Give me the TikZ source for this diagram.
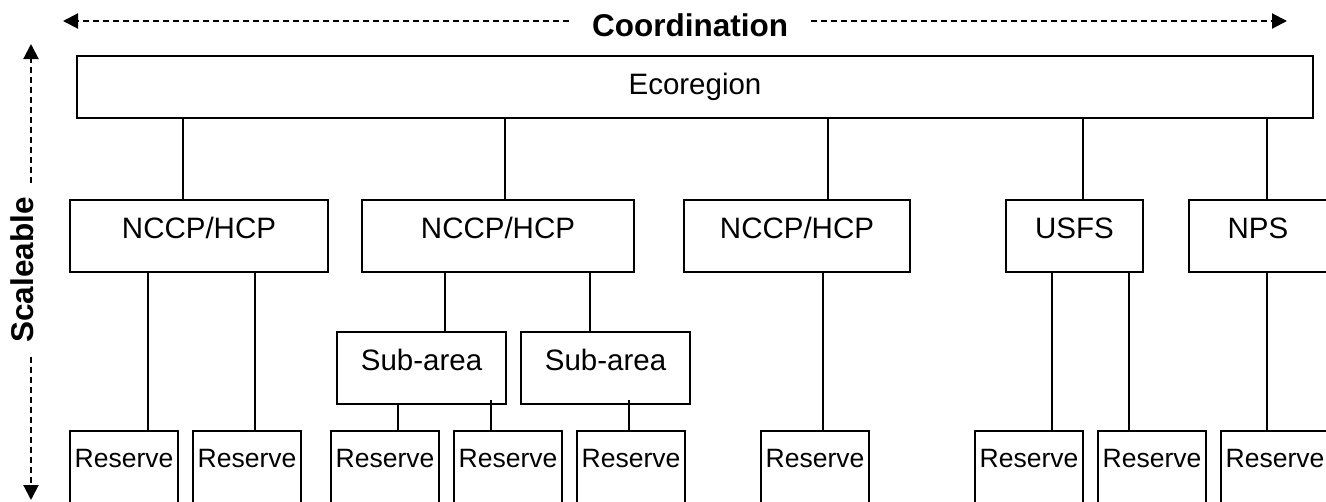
\documentclass[tikz,border=0pt]{standalone}
\usepackage{fontspec}
\setmainfont{Liberation Sans}
\usetikzlibrary{arrows.meta}
\begin{document}
\begin{tikzpicture}[x=1pt,y=-1pt,
  box/.style={draw, line width=2pt, inner sep=0pt, outer sep=0pt, anchor=north, font=\fontsize{29.5}{32}\selectfont},
  lvl/.style={box, text height=38pt, text depth=34pt},
  res/.style={box, text height=36pt, text depth=60pt, minimum width=108pt, font=\fontsize{26.5}{30}\selectfont},
  conn/.style={line width=2pt},
  dasharrow/.style={line width=2.1pt, dash pattern=on 6pt off 4pt, -{Triangle[length=15pt,width=15pt]}},
  axislabel/.style={font=\bfseries\fontsize{31.5}{34}\selectfont, inner ysep=0pt}]
\useasboundingbox (0,0) rectangle (1326,501);
\clip (0,0) rectangle (1326,501);
% top node
\node[box, minimum width=1236pt, text height=38pt, text depth=24pt] (eco) at (695,56) {Ecoregion};
% level 2
\node[lvl, minimum width=258pt] (n1) at (199,200) {NCCP/HCP};
\node[lvl, minimum width=272pt] (n2) at (498,200) {NCCP/HCP};
\node[lvl, minimum width=226pt] (n3) at (797,200) {NCCP/HCP};
\node[lvl, minimum width=137pt] (usfs) at (1074.5,200) {USFS};
\node[lvl, minimum width=138pt] (nps) at (1258,200) {NPS};
% sub-areas
\node[lvl, minimum width=169pt] (s1) at (421.5,332) {Sub-area};
\node[lvl, minimum width=169pt] (s2) at (605.5,332) {Sub-area};
% reserves
\node[res] (r1) at (124,431) {Reserve};
\node[res] (r2) at (247,431) {Reserve};
\node[res] (r3) at (385,431) {Reserve};
\node[res] (r4) at (508,431) {Reserve};
\node[res] (r5) at (631,431) {Reserve};
\node[res] (r6) at (815,431) {Reserve};
\node[res] (r7) at (1029,431) {Reserve};
\node[res] (r8) at (1152,431) {Reserve};
\node[res] (r9) at (1275,431) {Reserve};
% connector x positions
\foreach \n/\x in {a/183,b/505,c/828,d/1083,e/1267,f/148,g/255,h/445,i/590,j/398,k/491,l/629,m/823,o/1052,p/1129}
  \coordinate (x\n) at (\x,0);
\draw[conn] (eco.south -| xa) -- (n1.north -| xa);
\draw[conn] (eco.south -| xb) -- (n2.north -| xb);
\draw[conn] (eco.south -| xc) -- (n3.north -| xc);
\draw[conn] (eco.south -| xd) -- (usfs.north -| xd);
\draw[conn] (eco.south -| xe) -- (nps.north -| xe);
\draw[conn] (n1.south -| xf) -- (r1.north -| xf);
\draw[conn] (n1.south -| xg) -- (r2.north -| xg);
\draw[conn] (n2.south -| xh) -- (s1.north -| xh);
\draw[conn] (n2.south -| xi) -- (s2.north -| xi);
\draw[conn] (s1.south -| xj) -- (r3.north -| xj);
\draw[conn] (s1.south -| xk) ++(0,-4) -- (r4.north -| xk);
\draw[conn] (s2.south -| xl) ++(0,-4) -- (r5.north -| xl);
\draw[conn] (n3.south -| xm) -- (r6.north -| xm);
\draw[conn] (usfs.south -| xo) -- (r7.north -| xo);
\draw[conn] (usfs.south -| xp) -- (r8.north -| xp);
\draw[conn] (nps.south -| xe) -- (r9.north -| xe);
% coordination arrow
\node[axislabel, inner xsep=23pt, anchor=base] (coord) at (690,36) {Coordination};
\coordinate (cl) at (63,21);
\coordinate (cr) at (1287,21);
\draw[dasharrow] (coord.west |- cl) -- (cl);
\draw[dasharrow] (coord.east |- cr) -- (cr);
% scaleable arrow
\node[axislabel, inner xsep=14pt, rotate=90, anchor=base] (scal) at (33,270) {Scaleable};
\coordinate (st) at (31,44);
\coordinate (sb) at (31,500);
\draw[dasharrow] (scal.east -| st) -- (st);
\draw[dasharrow] (scal.west -| sb) -- (sb);
\end{tikzpicture}
\end{document}
